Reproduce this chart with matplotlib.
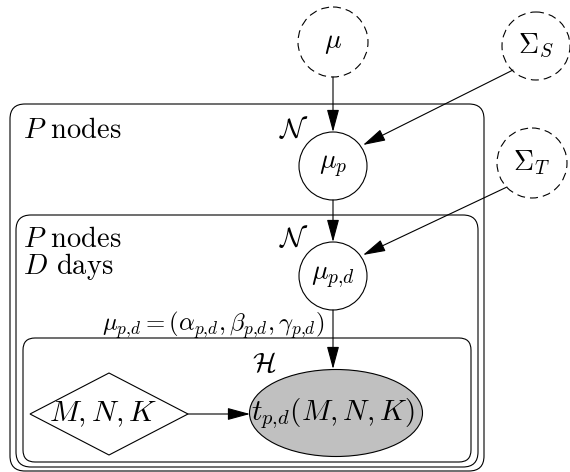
import matplotlib
matplotlib.use("Agg")
import matplotlib.pyplot as plt
from matplotlib.patches import Circle, Ellipse, Polygon, FancyBboxPatch, FancyArrowPatch, ArrowStyle

plt.rcParams["mathtext.fontset"] = "cm"

# %% Layout (pixel coordinates, y grows downward)
# plates: (left, top, right, bottom, corner radius)
plates = [(10, 104, 484, 471, 15), (16, 215, 478, 467, 15), (23, 338, 471, 462, 12)]

# circle nodes: (x, y, radius, label, fontsize, dashed)
mu_node = (333, 42, 35, r"$\mu$", 20, True)
sigma_s = (536, 46, 34, r"$\Sigma_S$", 20, True)
sigma_t = (532, 163, 35, r"$\Sigma_T$", 20, True)
mu_p = (333, 166, 34, r"$\mu_p$", 20, False)
mu_pd = (333, 276, 34, r"$\mu_{p{,}d}$", 20, False)
circle_nodes = [mu_node, sigma_s, sigma_t, mu_p, mu_pd]

diamond_center = (109, 414)
diamond_half = (79, 41)
diamond_label = r"$M, N, K$"

obs_center = (336, 413)
obs_size = (173, 87)
obs_label = r"$t_{p{,}d}(M, N, K)$"

# edges: (start, end)
edges = [
    ((333, 77), (333, 132)),
    ((513, 70), (363, 145)),
    ((333, 200), (333, 242)),
    ((507, 187), (363, 255)),
    ((333, 310), (333, 369)),
    ((188, 414), (250, 414)),
]

# plate captions: (x, y, text)
plate_text = [
    (23, 138, r"$P$ nodes"),
    (23, 247, r"$P$ nodes"),
    (23, 274, r"$D$ days"),
]

# math labels: (x, y, text, fontsize, ha, va)
labels = [
    (294, 130, r"$\mathcal{N}$", 20, "center", "center"),
    (294, 239, r"$\mathcal{N}$", 20, "center", "center"),
    (264, 364, r"$\mathcal{H}$", 20, "center", "center"),
    (213, 331, r"$\mu_{p{,}d} = (\alpha_{p{,}d}, \beta_{p{,}d}, \gamma_{p{,}d})$", 17.8, "center", "baseline"),
]

# %% Draw
fig = plt.figure(figsize=(5.7, 4.72), dpi=100)
ax = fig.add_axes([0, 0, 1, 1])
ax.set_xlim(0, 570)
ax.set_ylim(472, 0)
ax.axis("off")

lw = 0.8
for left, top, right, bottom, rad in plates:
    ax.add_patch(FancyBboxPatch((left, top), right - left, bottom - top,
                                boxstyle=f"round,pad=0,rounding_size={rad}",
                                fc="none", ec="black", lw=lw))

for x, y, r, text, fs, dashed in circle_nodes:
    ax.add_patch(Circle((x, y), r, fc="white", ec="black", lw=lw,
                        ls=(0, (7.2, 4.5)) if dashed else "-"))
    ax.text(x, y, text, fontsize=fs, ha="center", va="center")

cx, cy = diamond_center
hw, hh = diamond_half
ax.add_patch(Polygon([(cx - hw, cy), (cx, cy - hh), (cx + hw, cy), (cx, cy + hh)],
                     closed=True, fc="white", ec="black", lw=lw))
ax.text(103, 421, diamond_label, fontsize=21.5, ha="center", va="baseline")

ax.add_patch(Ellipse(obs_center, obs_size[0], obs_size[1], fc="#c0c0c0", ec="black", lw=lw))
ax.text(333, 420, obs_label, fontsize=21, ha="center", va="baseline")

head = ArrowStyle("-|>", head_length=14, head_width=3.8)
for start, end in edges:
    ax.add_patch(FancyArrowPatch(start, end, arrowstyle=head, mutation_scale=1,
                                 shrinkA=0, shrinkB=0, color="black", lw=lw))

for x, y, text in plate_text:
    ax.text(x, y, text, fontsize=20.5, family="cmr10", ha="left", va="baseline")

for x, y, text, fs, ha, va in labels:
    ax.text(x, y, text, fontsize=fs, ha=ha, va=va)

plt.savefig("out.png", dpi=100)
